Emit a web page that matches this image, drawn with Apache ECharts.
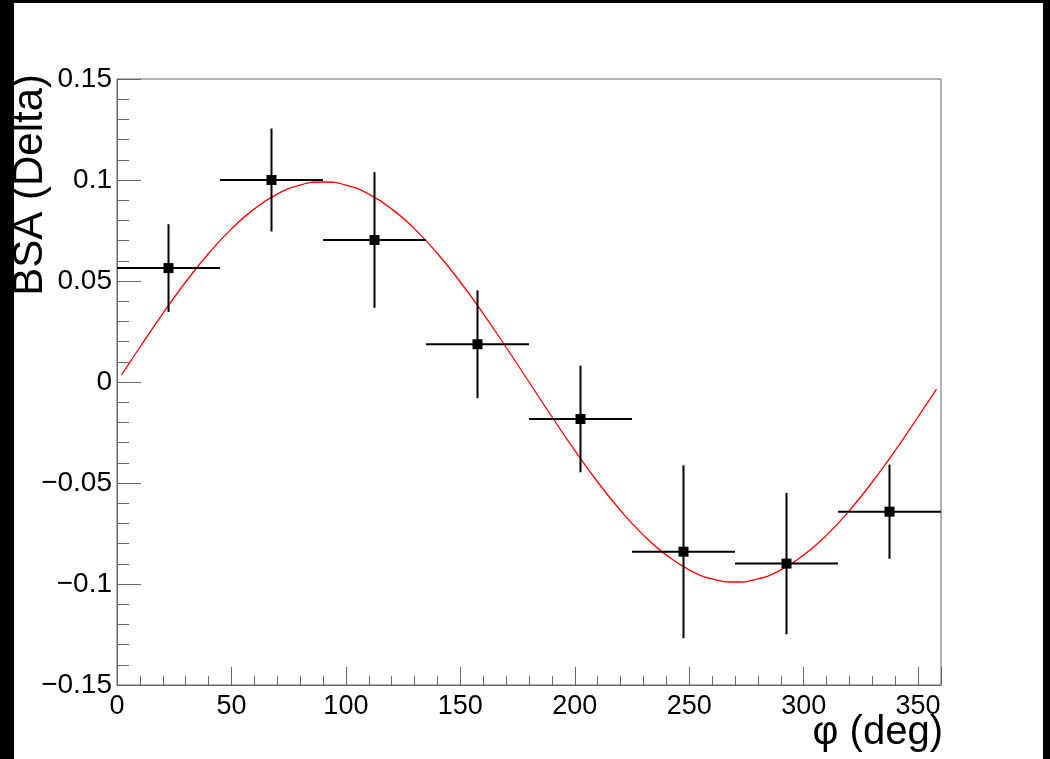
<!DOCTYPE html>
<html>
<head>
<meta charset="utf-8">
<script src="https://cdn.jsdelivr.net/npm/echarts@6/dist/echarts.min.js"></script>
<style>
html,body{margin:0;padding:0;background:#fff;}
#chart{width:1050px;height:759px;}
</style>
</head>
<body>
<div id="chart"></div>
<script>
// ---- data ----
const phiCenters = [22.5, 67.5, 112.5, 157.5, 202.5, 247.5, 292.5, 337.5];
const phiHalfWidths = [22.5, 22.5, 22.5, 22.5, 22.5, 22.5, 22.5, 22.5];
const bsaValues = [0.0564, 0.1000, 0.0703, 0.0187, -0.0183, -0.0840, -0.0899, -0.0642];
const bsaErrors = [0.0217, 0.0255, 0.0336, 0.0267, 0.0264, 0.0428, 0.0350, 0.0233];

const fitPhi = [2, 10, 20, 30, 40, 50, 60, 70, 80, 90, 100, 110, 120, 130, 140, 150, 160, 170, 180,
  190, 200, 210, 220, 230, 240, 250, 260, 270, 280, 290, 300, 310, 320, 330, 340, 350, 358];
const fitBsa = [0.0035, 0.0172, 0.0339, 0.0495, 0.0636, 0.0758, 0.0857, 0.0930, 0.0975, 0.0990,
  0.0975, 0.0930, 0.0857, 0.0758, 0.0636, 0.0495, 0.0339, 0.0172, 0.0000,
  -0.0172, -0.0339, -0.0495, -0.0636, -0.0758, -0.0857, -0.0930, -0.0975, -0.0990,
  -0.0975, -0.0930, -0.0857, -0.0758, -0.0636, -0.0495, -0.0339, -0.0172, -0.0035];

const xTickLabels = ['0', '50', '100', '150', '200', '250', '300', '350'];
const yTickLabels = ['\u22120.15', '\u22120.1', '\u22120.05', '0', '0.05', '0.1', '0.15'];
const xTitle = '\u03c6 (deg)';
const yTitle = 'BSA (Delta)';

// ---- chart ----
const X_MIN = 0, X_MAX = 360, X_INT = 50;
const Y_MIN = -0.15, Y_MAX = 0.15, Y_INT = 0.05;
const FONT = '"Liberation Sans", Arial, Helvetica, sans-serif';
const AXIS_GREY = '#666666';

const pointData = phiCenters.map((x, i) => [x, bsaValues[i], phiHalfWidths[i], bsaErrors[i]]);
const fitData = fitPhi.map((x, i) => [x, fitBsa[i]]);

const chart = echarts.init(document.getElementById('chart'), null, {renderer: 'canvas'});

const option = {
  backgroundColor: '#ffffff',
  animation: false,
  grid: {
    left: 117, top: 79, right: 109, bottom: 74,
    show: true, borderColor: AXIS_GREY, borderWidth: 1, backgroundColor: '#ffffff'
  },
  xAxis: {
    type: 'value', min: X_MIN, max: X_MAX, interval: X_INT,
    axisLine: {show: true, onZero: false, lineStyle: {color: AXIS_GREY, width: 1}},
    axisTick: {show: true, inside: true, length: 18, lineStyle: {color: AXIS_GREY, width: 1}},
    minorTick: {show: true, splitNumber: 5, length: 9, lineStyle: {color: AXIS_GREY, width: 1}},
    splitLine: {show: false},
    axisLabel: {
      show: true, margin: 8, color: '#000', fontSize: 27, fontFamily: FONT,
      formatter: function (v) {
        const idx = Math.round((v - X_MIN) / X_INT);
        if (Math.abs(v - (X_MIN + idx * X_INT)) > 1e-6) return '';
        return xTickLabels[idx] !== undefined ? xTickLabels[idx] : '';
      }
    }
  },
  yAxis: {
    type: 'value', min: Y_MIN, max: Y_MAX, interval: Y_INT,
    axisLine: {show: true, onZero: false, lineStyle: {color: AXIS_GREY, width: 1}},
    axisTick: {show: true, inside: true, length: 24, lineStyle: {color: AXIS_GREY, width: 1}},
    minorTick: {show: true, splitNumber: 5, length: 12, lineStyle: {color: AXIS_GREY, width: 1}},
    splitLine: {show: false},
    axisLabel: {
      show: true, margin: 5, color: '#000', fontSize: 28, fontFamily: FONT,
      formatter: function (v) {
        const idx = Math.round((v - Y_MIN) / Y_INT);
        return yTickLabels[idx] !== undefined ? yTickLabels[idx] : '';
      }
    }
  },
  series: [
    {
      type: 'line',
      data: fitData,
      smooth: 0.5,
      showSymbol: false,
      symbol: 'none',
      lineStyle: {color: '#ff0000', width: 1.3},
      z: 3
    },
    {
      type: 'custom',
      data: pointData,
      z: 5,
      renderItem: function (params, api) {
        const x = api.value(0), y = api.value(1), ex = api.value(2), ey = api.value(3);
        const c = api.coord([x, y]);
        const l = api.coord([x - ex, y]);
        const r = api.coord([x + ex, y]);
        const t = api.coord([x, y + ey]);
        const b = api.coord([x, y - ey]);
        const s = 10;
        const style = {stroke: '#000', lineWidth: 2};
        return {
          type: 'group',
          children: [
            {type: 'line', shape: {x1: l[0], y1: l[1], x2: r[0], y2: r[1]}, style: style},
            {type: 'line', shape: {x1: t[0], y1: t[1], x2: b[0], y2: b[1]}, style: style},
            {type: 'rect', shape: {x: c[0] - s / 2, y: c[1] - s / 2, width: s, height: s}, style: {fill: '#000'}}
          ]
        };
      }
    }
  ],
  graphic: [
    {
      type: 'text', z: 10,
      x: 943, y: 753,
      style: {text: xTitle, font: '40px ' + FONT, fill: '#000', textAlign: 'right', textVerticalAlign: 'bottom'}
    },
    {
      type: 'text', z: 10,
      x: 51, y: 74, rotation: Math.PI / 2,
      style: {text: yTitle, font: '42px ' + FONT, fill: '#000', textAlign: 'right', textVerticalAlign: 'bottom'}
    },
    {type: 'rect', z: 100, shape: {x: 0, y: 0, width: 14, height: 759}, style: {fill: '#000'}},
    {type: 'rect', z: 100, shape: {x: 0, y: 0, width: 1050, height: 3}, style: {fill: '#000'}},
    {type: 'rect', z: 100, shape: {x: 1043, y: 0, width: 7, height: 759}, style: {fill: '#000'}}
  ]
};

chart.setOption(option);
</script>
</body>
</html>
